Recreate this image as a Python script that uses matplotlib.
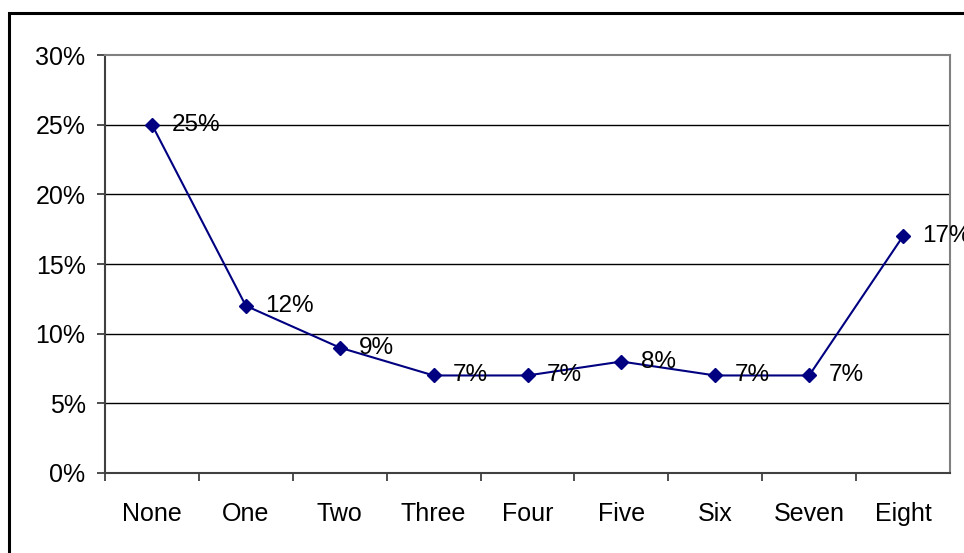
import matplotlib.pyplot as plt
from matplotlib.patches import Rectangle

categories = ['None', 'One', 'Two', 'Three', 'Four', 'Five', 'Six', 'Seven', 'Eight']
values = [25, 12, 9, 7, 7, 8, 7, 7, 17]
yticks = [0, 5, 10, 15, 20, 25, 30]

plt.rcParams['font.family'] = ['Liberation Sans', 'DejaVu Sans']

W, H = 964, 553
fig = plt.figure(figsize=(W / 100, H / 100), dpi=100)

# outer chart frame (runs off right and bottom edges)
fig.patches.append(Rectangle((9 / W, 0 - 0.05), 1.1, 1 - 13 / H + 0.05,
                             transform=fig.transFigure, fill=False,
                             edgecolor='black', linewidth=2.2))

ax = fig.add_axes([105 / W, 1 - 473 / H, (950 - 105) / W, (473 - 55) / H])

x = list(range(len(categories)))
ax.plot(x, values, color='#000080', linewidth=1.5, marker='D',
        markersize=7, markerfacecolor='#000080', markeredgecolor='#000080',
        zorder=3)

for xi, v in zip(x, values):
    ax.annotate(f'{v}%', (xi, v), xytext=(14, 0), textcoords='offset points',
                va='center', ha='left', fontsize=17.5, color='black',
                annotation_clip=False, zorder=4)

ax.set_xlim(-0.5, len(categories) - 0.5)
ax.set_ylim(0, 30)
ax.set_yticks(yticks)
ax.set_yticklabels([f'{t}%' for t in yticks], fontsize=18)
ax.set_xticks(x)
ax.set_xticklabels(categories, fontsize=18)
ax.tick_params(axis='x', length=0, pad=21)
ax.set_xticks([i + 0.5 for i in range(-1, len(categories) - 1)], minor=True)
ax.tick_params(axis='x', which='minor', length=6, color='#404040', width=1.3)
ax.tick_params(axis='y', length=6, color='#404040', width=1.3, pad=8)

for t in yticks[1:-1]:
    ax.axhline(t, color='black', linewidth=1, zorder=1)

ax.spines['top'].set_color('#808080')
ax.spines['right'].set_color('#808080')
ax.spines['top'].set_linewidth(1.5)
ax.spines['right'].set_linewidth(1.5)
ax.spines['left'].set_color('#404040')
ax.spines['bottom'].set_color('#404040')
ax.spines['left'].set_linewidth(1.5)
ax.spines['bottom'].set_linewidth(1.5)

plt.savefig('out.png', dpi=100)
